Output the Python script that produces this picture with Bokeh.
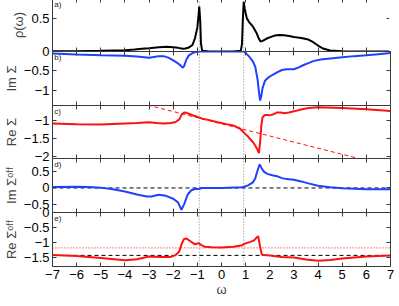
from bokeh.plotting import figure
from bokeh.models import Range1d, FixedTicker, LinearAxis, Span, Label
from bokeh.layouts import column
from bokeh.embed import file_html
from bokeh.resources import INLINE

# ---------------- data ----------------
x_ticks = list(range(-7, 8))
gap_edges = [-0.92, 0.92]

rho_w = [-7, -6, -5, -4.5, -4, -3.6, -3.3, -3, -2.6, -2.25, -2.0, -1.8, -1.6, -1.5, -1.35, -1.2, -1.1,
         -1.0, -0.95, -0.92, -0.88, -0.85, -0.8, -0.5, 0, 0.5, 0.8, 0.85, 0.88, 0.92, 0.96, 1.0, 1.05,
         1.15, 1.25, 1.33, 1.45, 1.55, 1.62, 1.7, 1.8, 1.9, 2.05, 2.2, 2.4, 2.6, 2.8, 3.0, 3.3, 3.6,
         3.8, 4.0, 4.2, 4.5, 5.0, 6.0, 7.0]
rho_v = [0.002, 0.005, 0.01, 0.015, 0.02, 0.03, 0.04, 0.05, 0.065, 0.07, 0.065, 0.055, 0.04, 0.045,
         0.06, 0.1, 0.2, 0.36, 0.55, 0.68, 0.45, 0.12, 0.01, 0.0, 0.0, 0.0, 0.01, 0.12, 0.45, 0.75,
         0.65, 0.58, 0.5, 0.44, 0.4, 0.36, 0.28, 0.19, 0.15, 0.16, 0.18, 0.2, 0.22, 0.24, 0.25, 0.245,
         0.235, 0.22, 0.205, 0.18, 0.14, 0.09, 0.045, 0.015, 0.003, 0.0, 0.0]

im_w = [-7, -6, -5, -4, -3.5, -3, -2.8, -2.6, -2.4, -2.2, -2.0, -1.8, -1.7, -1.6, -1.55, -1.45, -1.35,
        -1.2, -1.05, -0.95, 0, 0.92, 1.0, 1.1, 1.2, 1.3, 1.4, 1.5, 1.55, 1.6, 1.65, 1.7, 1.8, 1.95,
        2.1, 2.3, 2.5, 2.7, 3.0, 3.2, 3.4, 3.6, 3.8, 4.1, 4.5, 5.0, 5.5, 6.0, 6.5, 7.0]
im_v = [-0.05, -0.08, -0.1, -0.11, -0.13, -0.16, -0.14, -0.12, -0.12, -0.16, -0.23, -0.31, -0.36,
        -0.42, -0.38, -0.2, -0.1, -0.04, -0.01, 0.0, 0.0, 0.0, -0.04, -0.1, -0.17, -0.26, -0.4, -0.75,
        -1.05, -1.27, -1.15, -0.95, -0.76, -0.67, -0.61, -0.54, -0.48, -0.46, -0.46, -0.41, -0.35,
        -0.3, -0.25, -0.21, -0.18, -0.15, -0.12, -0.1, -0.07, -0.04]

re_w = [-7, -6, -5, -4, -3.5, -3, -2.7, -2.4, -2.1, -1.9, -1.75, -1.65, -1.55, -1.45, -1.3, -1.15,
        -1.0, -0.8, -0.5, -0.2, 0.2, 0.5, 0.76, 0.9, 1.0, 1.1, 1.2, 1.3, 1.4, 1.5, 1.55, 1.6, 1.65,
        1.7, 1.8, 1.9, 2.0, 2.15, 2.3, 2.45, 2.6, 2.8, 3.0, 3.3, 3.6, 4.0, 5.0, 6.0, 7.0]
re_v = [-1.09, -1.11, -1.12, -1.09, -1.08, -1.06, -1.08, -1.09, -1.08, -1.05, -0.98, -0.85, -0.79,
        -0.80, -0.84, -0.88, -0.91, -0.96, -1.0, -1.05, -1.11, -1.15, -1.23, -1.32, -1.39, -1.45,
        -1.53, -1.6, -1.7, -1.82, -1.9, -1.6, -1.15, -0.92, -0.86, -0.86, -0.87, -0.84, -0.79, -0.79,
        -0.81, -0.79, -0.76, -0.71, -0.67, -0.65, -0.67, -0.70, -0.75]
re_dash_w = [-7, 7]
re_dash_v = [0.07, -2.27]

imoff_w = [-7, -6, -5.5, -5, -4.5, -4, -3.5, -3.1, -2.9, -2.6, -2.3, -2.0, -1.8, -1.66, -1.55, -1.4,
           -1.25, -1.1, -0.95, -0.8, 0, 0.8, 0.92, 1.1, 1.3, 1.4, 1.5, 1.58, 1.65, 1.75, 1.9, 2.1,
           2.3, 2.5, 2.7, 3.0, 3.3, 3.6, 4.0, 4.5, 5.0, 6.0, 7.0]
imoff_v = [0.03, 0.04, 0.03, 0.01, -0.04, -0.11, -0.2, -0.26, -0.26, -0.21, -0.24, -0.33, -0.44,
           -0.67, -0.5, -0.2, -0.07, -0.03, -0.03, 0.0, 0.0, 0.02, 0.03, 0.08, 0.17, 0.3, 0.55, 0.72,
           0.62, 0.5, 0.43, 0.39, 0.36, 0.3, 0.27, 0.25, 0.2, 0.14, 0.07, 0.02, -0.01, -0.04, -0.04]
imoff_ref = 0.0

reoff_w = [-7, -6, -5, -4, -3.5, -3, -2.5, -2.1, -1.9, -1.75, -1.65, -1.55, -1.45, -1.3, -1.1, -0.95,
           -0.85, -0.7, -0.4, 0, 0.5, 0.85, 1.0, 1.2, 1.35, 1.45, 1.52, 1.6, 1.67, 1.75, 2.0, 2.5,
           3.0, 3.5, 4.0, 4.5, 5.0, 6.0, 7.0]
reoff_v = [-1.42, -1.45, -1.52, -1.59, -1.56, -1.47, -1.48, -1.48, -1.42, -1.3, -1.05, -0.88, -0.87,
           -0.95, -1.06, -1.02, -1.08, -1.14, -1.16, -1.17, -1.14, -1.09, -1.03, -0.98, -0.93, -0.84,
           -0.79, -1.15, -1.40, -1.42, -1.43, -1.48, -1.5, -1.57, -1.61, -1.58, -1.53, -1.47, -1.43]
reoff_dash = -1.43
reoff_dot = -1.18

# ---------------- styling ----------------
FONT = "Liberation Sans"
AX = "#3a3a3a"
BLUE = "#2040ff"
RED = "#ff1010"
PAD = 8

xr = Range1d(-7, 7)


def fmt(v):
    return ("%g" % v).replace("-", "\u2212")


def style_axis(ax, ticks, labels=True):
    ax.ticker = FixedTicker(ticks=ticks)
    ax.major_tick_in = 4
    ax.major_tick_out = 0
    ax.major_tick_line_color = AX
    ax.minor_tick_line_color = None
    ax.axis_line_color = None
    if labels:
        ax.major_label_text_font = FONT
        ax.major_label_text_font_size = "13px"
        ax.major_label_text_color = "black"
        ax.major_label_standoff = 3
        ax.major_label_overrides = {float(t): fmt(t) for t in ticks}
    else:
        ax.major_label_text_font_size = "1px"
        ax.major_label_standoff = 0
        ax.major_label_overrides = {float(t): "" for t in ticks}


def panel(tag, ylo, yhi, yticks, ylabel, fh, first=False, bottom=False):
    p = figure(x_range=xr, y_range=Range1d(ylo, yhi), frame_width=338, frame_height=fh,
               output_backend="svg", toolbar_location=None,
               min_border_left=47, min_border_right=4,
               min_border_top=0 if first else PAD,
               min_border_bottom=PAD,
               margin=(-2, 0, 0, 0) if first else (-2 * PAD, 0, 0, 0))
    p.grid.visible = False
    p.outline_line_color = AX
    p.outline_line_width = 1
    p.background_fill_color = "white"
    p.border_fill_alpha = 0

    ya = p.yaxis[0]
    style_axis(ya, yticks, True)
    ya.axis_label = ylabel
    ya.axis_label_text_font = FONT
    ya.axis_label_text_font_size = "13px"
    ya.axis_label_text_font_style = "normal"
    ya.axis_label_standoff = 2

    xa = p.xaxis[0]
    style_axis(xa, x_ticks, bottom)
    if bottom:
        xa.axis_label = "ω"
        xa.axis_label_text_font = FONT
        xa.axis_label_text_font_size = "13px"
        xa.axis_label_text_font_style = "normal"
        xa.axis_label_standoff = 0

    ra = LinearAxis()
    style_axis(ra, yticks, False)
    p.add_layout(ra, "right")
    ta = LinearAxis()
    style_axis(ta, x_ticks, False)
    p.add_layout(ta, "above")

    for g in gap_edges:
        p.add_layout(Span(location=g, dimension="height", line_color="#808080",
                          line_dash="1 2", line_width=1, level="underlay"))
    p.add_layout(Label(x=-6.93, y=yhi, text=tag, text_font=FONT, text_font_size="8px",
                       text_baseline="top", y_offset=-1, text_color="#222222"))
    return p


pa = panel("a)", 0, 0.8, [0.5], "ρ(ω)", 53, first=True)
pa.line(rho_w, rho_v, line_color="black", line_width=2)

pb = panel("b)", -1.4, 0, [-1, -0.5, 0], "Im Σ", 54)
pb.line(im_w, im_v, line_color=BLUE, line_width=2)

pc = panel("c)", -2.05, -0.6, [-2, -1.5, -1], "Re Σ", 53)
pc.line(re_dash_w, re_dash_v, line_color=RED, line_width=1, line_dash="4 3")
pc.line(re_w, re_v, line_color=RED, line_width=2)

pd = panel("d)", -0.75, 0.9, [-0.5, 0, 0.5], "Im Σᵒᶠᶠ", 54)
pd.add_layout(Span(location=imoff_ref, dimension="width", line_color="black",
                   line_dash="4 3", line_width=1, level="underlay"))
pd.line(imoff_w, imoff_v, line_color=BLUE, line_width=2)

pe = panel("e)", -1.8, 0, [-1.5, -1, -0.5, 0], "Re Σᵒᶠᶠ", 54, bottom=True)
pe.add_layout(Span(location=reoff_dash, dimension="width", line_color="black",
                   line_dash="4 3", line_width=1, level="underlay"))
pe.add_layout(Span(location=reoff_dot, dimension="width", line_color=RED,
                   line_dash="1 2", line_width=1, level="underlay"))
pe.line(reoff_w, reoff_v, line_color=RED, line_width=2)

layout = column(pa, pb, pc, pd, pe, spacing=0)

open("out.html", "w").write(file_html(layout, INLINE))
